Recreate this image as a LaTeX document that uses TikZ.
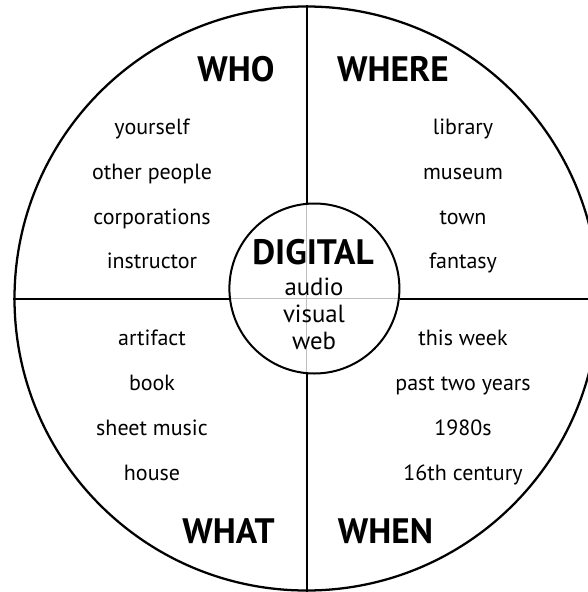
\documentclass[tikz,border=0pt]{standalone}
\usepackage{fontspec}
\setmainfont{PT Sans}
\begin{document}
\begin{tikzpicture}[x=0.75pt, y=-0.75pt,
  rule/.style={line width=1.5pt},
  faint/.style={line width=1pt, black!25},
  item/.style={anchor=base, inner sep=0pt, font=\fontsize{16.5}{19}\selectfont},
  heading/.style={anchor=base, inner sep=0pt, font=\fontsize{26.5}{30}\selectfont\bfseries},
  medium/.style={anchor=base, inner sep=0pt, font=\fontsize{18.6}{21}\selectfont}]
\useasboundingbox (0,0) rectangle (588,592);
\clip (0,0) rectangle (588,592);
% outer wheel and centre hub
\node [circle, draw, line width=1.7pt, minimum size=438pt, inner sep=0pt] (wheel) at (306.5,298.5) {};
\node [circle, minimum size=127.5pt, inner sep=0pt] (hub) at (314.4,288.5) {};
% quadrant rules, grey where they cross the hub
\draw [rule] (wheel.north) -- (wheel.north |- hub.north);
\draw [rule] (wheel.south) -- (wheel.south |- hub.south);
\draw [rule] (wheel.west) -- (hub.west |- wheel.west);
\draw [rule] (wheel.east) -- (hub.east |- wheel.east);
\draw [faint] (wheel.north |- hub.north) -- (wheel.south |- hub.south);
\draw [faint] (hub.west |- wheel.west) -- (hub.east |- wheel.east);
\draw [line width=1.5pt] (hub) circle [radius=85];
% centre
\node [heading] (digital) at (313,264) {DIGITAL};
\node [medium] (audio) at (314,295) {audio};
\node [medium] (visual) at (314,322) {visual};
\node [medium] (web) at (314,349) {web};
% quadrant headings
\node [heading] (who) at (236,82) {WHO};
\node [heading] (where) at (393,82) {WHERE};
\node [heading] (what) at (228.5,543) {WHAT};
\node [heading] (when) at (385.5,543) {WHEN};
% who
\node [item] (yourself) at (152,134) {yourself};
\node [item] (others) at (152,179) {other people};
\node [item] (corporations) at (152,224) {corporations};
\node [item] (instructor) at (152,268.5) {instructor};
% where
\node [item] (library) at (463,134) {library};
\node [item] (museum) at (463,179) {museum};
\node [item] (town) at (463,224) {town};
\node [item] (fantasy) at (463,268.5) {fantasy};
% what
\node [item] (artifact) at (152,345) {artifact};
\node [item] (book) at (152,390) {book};
\node [item] (sheetmusic) at (152,435) {sheet music};
\node [item] (house) at (152,480) {house};
% when
\node [item] (thisweek) at (463,345) {this week};
\node [item] (pasttwo) at (463,390) {past two years};
\node [item] (eighties) at (463,435) {1980s};
\node [item] (sixteenth) at (463,480) {16th century};
\end{tikzpicture}
\end{document}
